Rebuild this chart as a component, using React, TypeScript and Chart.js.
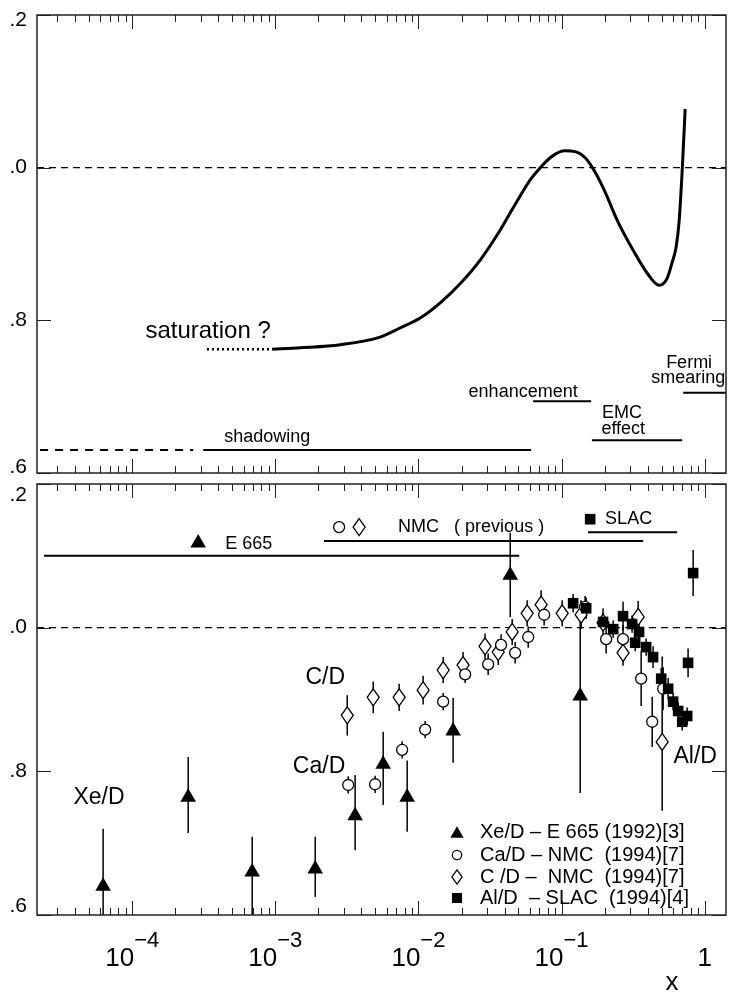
import React, { useEffect, useRef } from "react";
import { Chart, registerables } from "chart.js";

Chart.register(...registerables);

// ---------------- axes ----------------
const X_MIN = 2.16e-5;
const X_MAX = 1.41;
const X_MAJOR = [1e-4, 1e-3, 1e-2, 1e-1, 1];
const X_MAJOR_BASE = ["10", "10", "10", "10", "1"];
const X_MAJOR_EXP = ["\u22124", "\u22123", "\u22122", "\u22121", ""];
const X_TITLE = "x";
const Y_MIN = 0.6;
const Y_MAX = 1.2;
const Y_TICKS = [0.6, 0.8, 1.0, 1.2];
const Y_TICK_LABELS = ["0.6", "0.8", "1.0", "1.2"];
const UNITY = 1.0;

// ---------------- top panel ----------------
const CURVE_X = [9.5e-4, 1.49e-3, 2.84e-3, 5.4e-3, 7.45e-3, 0.01027, 0.01419, 0.01955, 0.027, 0.0372, 0.0438, 0.0514, 0.0604, 0.071, 0.0833, 0.0978, 0.106, 0.1245, 0.1463, 0.1718, 0.2017, 0.245, 0.316, 0.396, 0.481, 0.547, 0.593, 0.632, 0.664, 0.697, 0.731];
const CURVE_Y = [0.762, 0.764, 0.768, 0.778, 0.79, 0.803, 0.823, 0.848, 0.879, 0.918, 0.941, 0.963, 0.984, 1.0, 1.013, 1.021, 1.022, 1.021, 1.013, 0.994, 0.968, 0.931, 0.892, 0.862, 0.846, 0.855, 0.876, 0.896, 0.931, 0.997, 1.077];
const SATURATION_X = [3.33e-4, 9.5e-4];
const SATURATION_Y = 0.762;
const SHADOW_DASH_X = [2.27e-5, 2.67e-4];
const SHADOW_X = [3.13e-4, 0.0613];
const SHADOW_Y = 0.63;
const ENH_X = [0.0633, 0.161];
const ENH_Y = 0.694;
const EMC_X = [0.163, 0.697];
const EMC_Y = 0.643;
const FERMI_X = [0.708, 1.41];
const FERMI_Y = 0.705;
const TOP_LABELS = ["saturation ?", "shadowing", "enhancement", "EMC", "effect", "Fermi", "smearing"];
const TOP_LABEL_X = [3.39e-4, 8.77e-4, 0.0539, 0.265, 0.27, 0.779, 0.768];
const TOP_LABEL_Y = [0.785, 0.647, 0.706, 0.679, 0.658, 0.744, 0.724];

// ---------------- bottom panel ----------------
const XE_X = [6.26e-5, 2.46e-4, 6.89e-4, 1.9e-3, 3.61e-3, 5.67e-3, 8.34e-3, 0.01747, 0.0438, 0.135];
const XE_Y = [0.64, 0.764, 0.66, 0.664, 0.738, 0.81, 0.764, 0.856, 1.073, 0.905];
const XE_LO = [0.56, 0.714, 0.6, 0.625, 0.69, 0.753, 0.716, 0.812, 1.015, 0.77];
const XE_HI = [0.72, 0.82, 0.709, 0.709, 0.795, 0.855, 0.815, 0.902, 1.132, 1.03];

const CA_X = [3.23e-3, 4.98e-3, 7.69e-3, 0.01114, 0.01489, 0.0212, 0.0307, 0.0378, 0.0474, 0.0585, 0.0756, 0.146, 0.205, 0.269, 0.36, 0.43, 0.513];
const CA_Y = [0.781, 0.782, 0.83, 0.858, 0.897, 0.935, 0.949, 0.976, 0.965, 0.987, 1.018, 1.029, 0.984, 0.984, 0.929, 0.869, 0.915];
const CA_ERR = [0.012, 0.012, 0.012, 0.012, 0.012, 0.012, 0.015, 0.015, 0.015, 0.015, 0.015, 0.015, 0.02, 0.02, 0.038, 0.035, 0.03];

const C_X = [3.18e-3, 4.83e-3, 7.33e-3, 0.01078, 0.01489, 0.0205, 0.0292, 0.0361, 0.0452, 0.0575, 0.072, 0.101, 0.137, 0.195, 0.269, 0.343, 0.505];
const C_Y = [0.878, 0.903, 0.903, 0.913, 0.941, 0.948, 0.974, 0.966, 0.994, 1.02, 1.032, 1.02, 1.018, 1.007, 0.965, 1.015, 0.841];
const C_ERR_LO = [0.028, 0.022, 0.019, 0.02, 0.018, 0.018, 0.018, 0.018, 0.018, 0.018, 0.02, 0.018, 0.02, 0.02, 0.018, 0.022, 0.096];
const C_ERR_HI = [0.028, 0.022, 0.019, 0.02, 0.018, 0.018, 0.018, 0.018, 0.018, 0.018, 0.02, 0.018, 0.02, 0.02, 0.018, 0.022, 0.119];

const AL_X = [0.1205, 0.1486, 0.195, 0.2296, 0.269, 0.311, 0.348, 0.327, 0.39, 0.436, 0.497, 0.556, 0.602, 0.653, 0.697, 0.755, 0.766, 0.831];
const AL_Y = [1.034, 1.027, 1.008, 0.998, 1.016, 1.005, 0.994, 0.979, 0.973, 0.959, 0.929, 0.915, 0.897, 0.884, 0.869, 0.877, 0.951, 1.076];
const AL_ERR = [0.013, 0.015, 0.012, 0.012, 0.02, 0.012, 0.012, 0.012, 0.012, 0.015, 0.015, 0.015, 0.012, 0.012, 0.012, 0.012, 0.02, 0.032];

const E665_LINE_X = [2.42e-5, 0.0506];
const E665_LINE_Y = 1.1;
const NMC_LINE_X = [2.19e-3, 0.372];
const NMC_LINE_Y = 1.1206;
const SLAC_LINE_X = [0.153, 0.642];
const SLAC_LINE_Y = 1.133;

const KEY_TEXT = ["E 665", "NMC   ( previous )", "SLAC"];
const KEY_TEXT_X = [4.46e-4, 7.21e-3, 0.2016];
const KEY_TEXT_Y = [1.116, 1.14, 1.151];
const KEY_MARK = ["tri", "circ", "diam", "sq"];
const KEY_MARK_X = [2.89e-4, 2.79e-3, 3.85e-3, 0.1585];
const KEY_MARK_Y = [1.118, 1.14, 1.14, 1.151];

const NUC_LABELS = ["C/D", "Ca/D", "Xe/D", "Al/D"];
const NUC_X = [2.23e-3, 2.02e-3, 5.86e-5, 0.859];
const NUC_Y = [0.931, 0.806, 0.764, 0.82];

const LEGEND_LABELS = ["Xe/D \u2013 E 665 (1992)[3]", "Ca/D \u2013 NMC  (1994)[7]", "C /D \u2013  NMC  (1994)[7]", "Al/D  \u2013 SLAC  (1994)[4]"];
const LEGEND_MARKS = ["tri", "circ", "diam", "sq"];

// ---------------- drawing helpers ----------------
const FONT = '"Liberation Sans", Arial, Helvetica, sans-serif';
const C_DATASET_INDEX = 3;

function pts(xs: number[], ys: number[]) {
  return xs.map((x, i) => ({ x, y: ys[i] }));
}
function seg(xs: number[], y: number) {
  return [{ x: xs[0], y }, { x: xs[1], y }];
}
function lineDs(data: any[], width: number, dash: number[] = []) {
  return {
    type: "line",
    data,
    borderColor: "#000",
    borderWidth: width,
    borderDash: dash,
    pointRadius: 0,
    pointHoverRadius: 0,
    fill: false,
    tension: 0,
    showLine: true,
  };
}

function drawMark(ctx: CanvasRenderingContext2D, kind: string, x: number, y: number, s: number) {
  ctx.save();
  ctx.fillStyle = "#000";
  ctx.strokeStyle = "#000";
  ctx.lineWidth = 1.3;
  ctx.beginPath();
  if (kind === "tri") {
    const r = 9 * s;
    ctx.moveTo(x, y - r);
    ctx.lineTo(x + r * 0.866, y + r / 2);
    ctx.lineTo(x - r * 0.866, y + r / 2);
    ctx.closePath();
    ctx.fill();
  } else if (kind === "circ") {
    ctx.arc(x, y, 5.5 * s, 0, Math.PI * 2);
    ctx.fillStyle = "#fff";
    ctx.fill();
    ctx.stroke();
  } else if (kind === "diam") {
    const w = 6 * s, h = 8.5 * s;
    ctx.moveTo(x, y - h);
    ctx.lineTo(x + w, y);
    ctx.lineTo(x, y + h);
    ctx.lineTo(x - w, y);
    ctx.closePath();
    ctx.fillStyle = "#fff";
    ctx.fill();
    ctx.stroke();
  } else {
    const h = 5.3 * s;
    ctx.rect(x - h, y - h, 2 * h, 2 * h);
    ctx.fill();
  }
  ctx.restore();
}

function makeFramePlugin(topInset: number, bottomInset: number) {
  return {
    id: "frame",
    afterDatasetsDraw(chart: any) {
      const { ctx, chartArea: ca, scales } = chart;
      const xs = scales.x;
      const ys = scales.y;
      ctx.save();
      ctx.strokeStyle = "#222";
      ctx.lineWidth = 1;
      // log ticks, top & bottom, inward
      for (let e = -5; e <= 0; e++) {
        for (let m = 1; m <= 9; m++) {
          const v = m * Math.pow(10, e);
          if (v < X_MIN || v > X_MAX) continue;
          const px = Math.round(xs.getPixelForValue(v)) + 0.5;
          const len = m === 1 ? 14 : 7;
          ctx.beginPath();
          ctx.moveTo(px, ca.bottom);
          ctx.lineTo(px, ca.bottom - len);
          ctx.moveTo(px, ca.top);
          ctx.lineTo(px, ca.top + len);
          ctx.stroke();
        }
      }
      // y ticks left & right
      for (const v of Y_TICKS) {
        const py = Math.round(ys.getPixelForValue(v)) + 0.5;
        ctx.beginPath();
        ctx.moveTo(ca.left, py);
        ctx.lineTo(ca.left + 14, py);
        ctx.moveTo(ca.right, py);
        ctx.lineTo(ca.right - 14, py);
        ctx.stroke();
      }
      // frame
      ctx.lineWidth = 1.5;
      ctx.strokeRect(ca.left, ca.top, ca.right - ca.left, ca.bottom - ca.top);
      // y labels
      ctx.fillStyle = "#000";
      ctx.font = `21px ${FONT}`;
      ctx.textAlign = "right";
      ctx.textBaseline = "middle";
      Y_TICKS.forEach((v, i) => {
        let py = ys.getPixelForValue(v);
        py = Math.min(Math.max(py, ca.top + topInset), ca.bottom - bottomInset);
        ctx.fillText(Y_TICK_LABELS[i], ca.left - 10, py);
      });
      ctx.restore();
    },
  };
}

const topNotesPlugin = {
  id: "topNotes",
  afterDatasetsDraw(chart: any) {
    const { ctx, scales } = chart;
    ctx.save();
    ctx.fillStyle = "#000";
    ctx.textAlign = "center";
    ctx.textBaseline = "middle";
    TOP_LABELS.forEach((t, i) => {
      ctx.font = `${i === 0 ? 24 : 18}px ${FONT}`;
      ctx.fillText(t, scales.x.getPixelForValue(TOP_LABEL_X[i]), scales.y.getPixelForValue(TOP_LABEL_Y[i]));
    });
    ctx.restore();
  },
};

const errorBarPlugin = {
  id: "errorBars",
  beforeDatasetsDraw(chart: any) {
    const { ctx, chartArea: ca, scales } = chart;
    const xs = scales.x, ys = scales.y;
    ctx.save();
    ctx.beginPath();
    ctx.rect(ca.left, ca.top, ca.right - ca.left, ca.bottom - ca.top);
    ctx.clip();
    ctx.strokeStyle = "#000";
    ctx.lineWidth = 1.5;
    const bar = (x: number, lo: number, hi: number) => {
      const px = xs.getPixelForValue(x);
      ctx.beginPath();
      ctx.moveTo(px, ys.getPixelForValue(lo));
      ctx.lineTo(px, ys.getPixelForValue(hi));
      ctx.stroke();
    };
    XE_X.forEach((x, i) => bar(x, XE_LO[i], XE_HI[i]));
    CA_X.forEach((x, i) => bar(x, CA_Y[i] - CA_ERR[i], CA_Y[i] + CA_ERR[i]));
    C_X.forEach((x, i) => bar(x, C_Y[i] - C_ERR_LO[i], C_Y[i] + C_ERR_HI[i]));
    AL_X.forEach((x, i) => bar(x, AL_Y[i] - AL_ERR[i], AL_Y[i] + AL_ERR[i]));
    ctx.restore();
  },
  // crisp open diamonds for the C/D dataset, placed at the library's point elements
  afterDatasetDraw(chart: any, args: any) {
    if (args.index !== C_DATASET_INDEX) return;
    const meta = chart.getDatasetMeta(C_DATASET_INDEX);
    const ctx = chart.ctx;
    meta.data.forEach((el: any) => drawMark(ctx, "diam", el.x, el.y, 1));
  },
};

const bottomNotesPlugin = {
  id: "bottomNotes",
  afterDraw(chart: any) {
    const { ctx, chartArea: ca, scales } = chart;
    const xs = scales.x, ys = scales.y;
    ctx.save();
    ctx.fillStyle = "#000";
    ctx.textBaseline = "middle";
    // key marks and texts
    KEY_MARK.forEach((k, i) => drawMark(ctx, k, xs.getPixelForValue(KEY_MARK_X[i]), ys.getPixelForValue(KEY_MARK_Y[i]), 1));
    ctx.font = `18px ${FONT}`;
    ctx.textAlign = "left";
    KEY_TEXT.forEach((t, i) => ctx.fillText(t, xs.getPixelForValue(KEY_TEXT_X[i]), ys.getPixelForValue(KEY_TEXT_Y[i])));
    // nucleus labels
    ctx.font = `23px ${FONT}`;
    ctx.textAlign = "center";
    NUC_LABELS.forEach((t, i) => ctx.fillText(t, xs.getPixelForValue(NUC_X[i]), ys.getPixelForValue(NUC_Y[i])));
    // legend box (bottom right)
    const lx = ca.right - 269;
    const tx = ca.right - 246;
    const rowY = [ca.bottom - 83, ca.bottom - 60, ca.bottom - 38, ca.bottom - 17];
    ctx.font = `20px ${FONT}`;
    ctx.textAlign = "left";
    LEGEND_LABELS.forEach((t, i) => {
      drawMark(ctx, LEGEND_MARKS[i], lx, rowY[i] + (LEGEND_MARKS[i] === "tri" ? 2 : 0), LEGEND_MARKS[i] === "sq" ? 0.95 : 0.85);
      ctx.fillText(t, tx, rowY[i]);
    });
    // x axis labels
    ctx.textBaseline = "alphabetic";
    const baseY = ca.bottom + 51;
    X_MAJOR.forEach((v, i) => {
      const px = xs.getPixelForValue(v);
      ctx.font = `26px ${FONT}`;
      const wb = ctx.measureText(X_MAJOR_BASE[i]).width;
      ctx.font = `22px ${FONT}`;
      const we = X_MAJOR_EXP[i] ? ctx.measureText(X_MAJOR_EXP[i]).width : 0;
      const x0 = px - (wb + we) / 2;
      ctx.font = `26px ${FONT}`;
      ctx.fillText(X_MAJOR_BASE[i], x0, baseY);
      if (X_MAJOR_EXP[i]) {
        ctx.font = `22px ${FONT}`;
        ctx.fillText(X_MAJOR_EXP[i], x0 + wb, baseY - 19);
      }
    });
    ctx.font = `26px ${FONT}`;
    ctx.textAlign = "center";
    ctx.fillText(X_TITLE, ca.right - 54, ca.bottom + 75);
    ctx.restore();
  },
};

function baseOptions(padding: any) {
  return {
    animation: false,
    responsive: false,
    devicePixelRatio: 1,
    events: [],
    layout: { padding, autoPadding: false },
    scales: {
      x: { type: "logarithmic", min: X_MIN, max: X_MAX, display: false },
      y: { type: "linear", min: Y_MIN, max: Y_MAX, display: false },
    },
    plugins: { legend: { display: false }, tooltip: { enabled: false } },
  };
}

function topConfig(): any {
  return {
    type: "line",
    data: {
      datasets: [
        { ...lineDs(pts(CURVE_X, CURVE_Y), 3), cubicInterpolationMode: "monotone" },
        lineDs(seg(SATURATION_X, SATURATION_Y), 2.5, [2, 3]),
        lineDs(seg(SHADOW_DASH_X, SHADOW_Y), 2, [8, 7]),
        lineDs(seg(SHADOW_X, SHADOW_Y), 2),
        lineDs(seg(ENH_X, ENH_Y), 2),
        lineDs(seg(EMC_X, EMC_Y), 2),
        lineDs(seg(FERMI_X, FERMI_Y), 2),
        lineDs(seg([X_MIN, X_MAX], UNITY), 1.3, [7, 5]),
      ],
    },
    options: baseOptions({ left: 27, right: 3, top: 15, bottom: 7 }),
    plugins: [makeFramePlugin(5, 6), topNotesPlugin],
  };
}

function bottomConfig(): any {
  return {
    type: "line",
    data: {
      datasets: [
        {
          type: "line",
          label: "Al/D",
          data: pts(AL_X, AL_Y),
          showLine: false,
          pointStyle: "rect",
          pointRadius: 7.5,
          pointBackgroundColor: "#000",
          pointBorderColor: "#000",
          pointBorderWidth: 0,
        },
        {
          type: "line",
          label: "Xe/D",
          data: pts(XE_X, XE_Y),
          showLine: false,
          pointStyle: "triangle",
          pointRadius: 9,
          pointBackgroundColor: "#000",
          pointBorderColor: "#000",
          pointBorderWidth: 0,
        },
        {
          type: "line",
          label: "Ca/D",
          data: pts(CA_X, CA_Y),
          showLine: false,
          pointStyle: "circle",
          pointRadius: 5.5,
          pointBackgroundColor: "#fff",
          pointBorderColor: "#000",
          pointBorderWidth: 1.3,
        },
        {
          type: "line",
          label: "C/D",
          data: pts(C_X, C_Y),
          showLine: false,
          pointStyle: "rectRot",
          pointRadius: 6,
          pointBackgroundColor: "rgba(0,0,0,0)",
          pointBorderColor: "rgba(0,0,0,0)",
          pointBorderWidth: 0,
        },
        lineDs(seg(E665_LINE_X, E665_LINE_Y), 2),
        lineDs(seg(NMC_LINE_X, NMC_LINE_Y), 2),
        lineDs(seg(SLAC_LINE_X, SLAC_LINE_Y), 2),
        lineDs(seg([X_MIN, X_MAX], UNITY), 1.3, [7, 5]),
      ],
    },
    options: baseOptions({ left: 27, right: 3, top: 4, bottom: 79 }),
    plugins: [errorBarPlugin, makeFramePlugin(11, 9), bottomNotesPlugin],
  };
}

export default function App() {
  const topRef = useRef<HTMLCanvasElement>(null);
  const botRef = useRef<HTMLCanvasElement>(null);
  useEffect(() => {
    document.body.style.margin = "0";
    const c1 = new Chart(topRef.current as HTMLCanvasElement, topConfig());
    const c2 = new Chart(botRef.current as HTMLCanvasElement, bottomConfig());
    return () => {
      c1.destroy();
      c2.destroy();
    };
  }, []);
  return (
    <div style={{ position: "relative", width: 729, height: 994, background: "#fff", overflow: "hidden" }}>
      <canvas ref={topRef} width={719} height={480} style={{ position: "absolute", left: 10, top: 0, width: 719, height: 480 }} />
      <canvas ref={botRef} width={719} height={514} style={{ position: "absolute", left: 10, top: 480, width: 719, height: 514 }} />
    </div>
  );
}
